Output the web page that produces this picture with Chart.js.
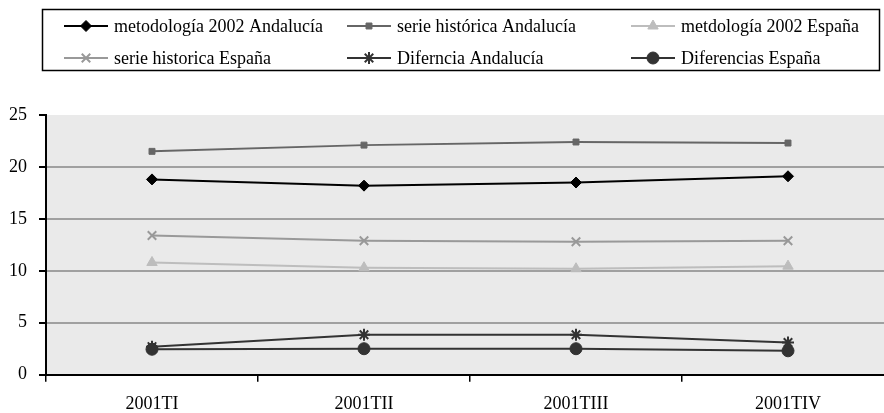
<!DOCTYPE html>
<html>
<head>
<meta charset="utf-8">
<script src="https://cdn.jsdelivr.net/npm/chart.js@4"></script>
<style>
  body { margin: 0; background: #fff; overflow: hidden; }
  #wrap { width: 902px; height: 413px; }
</style>
</head>
<body>
<div id="wrap"><canvas id="chart" width="902" height="413"></canvas></div>
<script>
// Data
var quarters = ['2001TI', '2001TII', '2001TIII', '2001TIV'];
var metodologiaAndalucia = [18.8, 18.2, 18.5, 19.1];
var serieAndalucia = [21.5, 22.1, 22.4, 22.3];
var metodologiaEspana = [10.8, 10.3, 10.2, 10.45];
var serieEspana = [13.4, 12.9, 12.8, 12.9];
var diferenciaAndalucia = [2.7, 3.85, 3.85, 3.1];
var diferenciasEspana = [2.45, 2.5, 2.5, 2.3];
var yTicks = [0, 5, 10, 15, 20, 25];

var serif = '"Liberation Serif", "Times New Roman", serif';

// helper to build one line dataset
function series(label, data, color, style, radius) {
    return {
        label: label,
        data: data,
        borderColor: color,
        backgroundColor: color,
        borderWidth: 2,
        pointStyle: style,
        pointRadius: radius,
        pointHoverRadius: radius,
        pointBorderWidth: style === 'crossRot' || style === 'star' ? 2 : 1,
        pointBorderColor: color,
        pointBackgroundColor: color,
        tension: 0
    };
}

var datasets = [
    series('metodología 2002 Andalucía', metodologiaAndalucia, '#000000', 'rectRot', 5.5),
    series('serie histórica Andalucía', serieAndalucia, '#666666', 'rect', 4.2),
    series('metdología 2002 España', metodologiaEspana, '#bdbdbd', 'triangle', 6),
    series('serie historica España', serieEspana, '#999999', 'crossRot', 6),
    series('Diferncia Andalucía', diferenciaAndalucia, '#333333', 'star', 6),
    series('Diferencias España', diferenciasEspana, '#333333', 'circle', 6)
];

// grey plot background
var plotBackground = {
    id: 'plotBackground',
    beforeDraw: function (chart) {
        var a = chart.chartArea;
        var ctx = chart.ctx;
        ctx.save();
        ctx.fillStyle = '#eaeaea';
        ctx.fillRect(a.left, a.top, a.right - a.left, a.bottom - a.top);
        ctx.restore();
    }
};

// boxed legend laid out as a 3 column grid, like the original
var boxLegend = {
    id: 'boxLegend',
    afterDraw: function (chart) {
        var ctx = chart.ctx;
        var colX = [64, 347, 631];
        var rowY = [26, 58];
        ctx.save();
        ctx.strokeStyle = '#000';
        ctx.lineWidth = 1.5;
        ctx.strokeRect(42.5, 9.5, 837, 61);
        ctx.font = '18px ' + serif;
        ctx.textBaseline = 'middle';
        ctx.fillStyle = '#000';
        chart.data.datasets.forEach(function (ds, i) {
            var x = colX[i % 3];
            var y = rowY[Math.floor(i / 3)];
            ctx.strokeStyle = ds.borderColor;
            ctx.lineWidth = 2;
            ctx.beginPath();
            ctx.moveTo(x, y);
            ctx.lineTo(x + 44, y);
            ctx.stroke();
            ctx.fillStyle = ds.pointBackgroundColor;
            ctx.strokeStyle = ds.pointBorderColor;
            ctx.lineWidth = ds.pointBorderWidth;
            Chart.helpers.drawPoint(ctx, {
                pointStyle: ds.pointStyle,
                radius: ds.pointRadius,
                rotation: 0,
                borderWidth: ds.pointBorderWidth
            }, x + 22, y);
            ctx.fillStyle = '#000';
            ctx.fillText(ds.label, x + 50, y + 1);
        });
        ctx.restore();
    }
};

var ctx = document.getElementById('chart').getContext('2d');
var chart = new Chart(ctx, {
    type: 'line',
    data: { labels: quarters, datasets: datasets },
    plugins: [plotBackground, boxLegend],
    options: {
        responsive: false,
        animation: false,
        layout: { padding: { top: 115, left: 9, right: 0, bottom: 0 } },
        plugins: {
            legend: { display: false },
            tooltip: { enabled: false }
        },
        scales: {
            x: {
                offset: true,
                afterFit: function (axis) { axis.height = 38.3; },
                grid: {
                    offset: true,
                    drawOnChartArea: false,
                    drawTicks: true,
                    tickLength: 7,
                    tickColor: '#000',
                    lineWidth: 1.5
                },
                border: { color: '#000', width: 2 },
                ticks: {
                    color: '#000',
                    padding: 12,
                    maxRotation: 0,
                    font: { family: serif, size: 18 }
                }
            },
            y: {
                min: 0,
                max: 25,
                afterFit: function (axis) { axis.width = 37; },
                afterBuildTicks: function (axis) {
                    axis.ticks = yTicks.map(function (v) { return { value: v }; });
                },
                grid: {
                    color: function (c) {
                        return (c.tick.value === 0 || c.tick.value === 25) ? 'rgba(0,0,0,0)' : '#a0a0a0';
                    },
                    lineWidth: 2,
                    tickColor: '#000',
                    tickLength: 7
                },
                border: { color: '#000', width: 2 },
                ticks: {
                    color: '#000',
                    padding: 12,
                    font: { family: serif, size: 18 }
                }
            }
        }
    }
});
</script>
</body>
</html>
